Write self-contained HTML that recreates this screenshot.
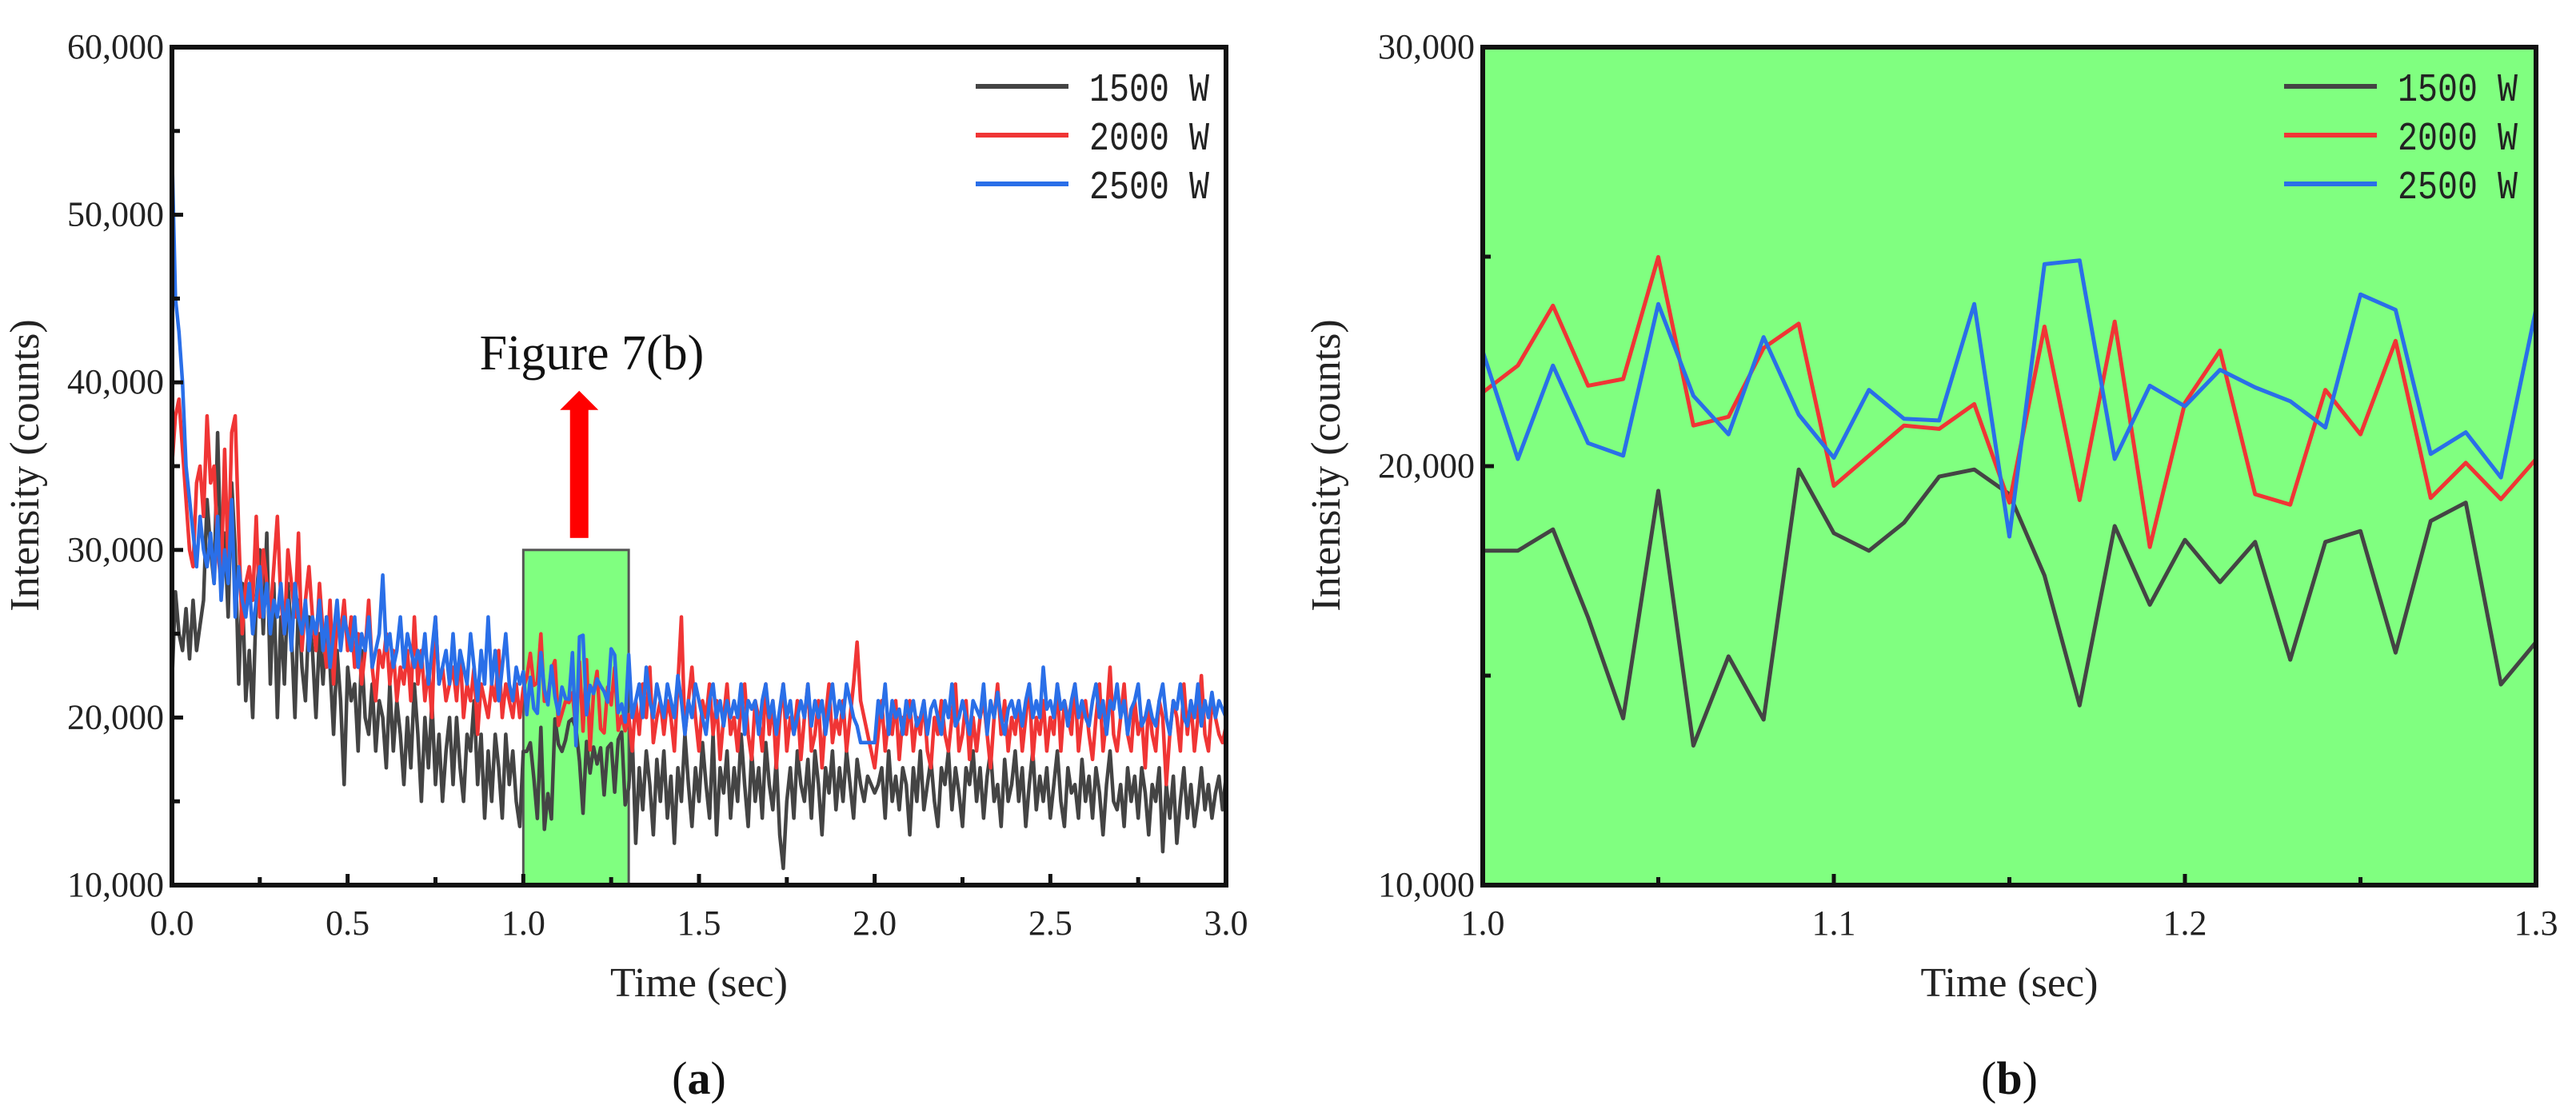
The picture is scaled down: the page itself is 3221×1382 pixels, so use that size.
<!DOCTYPE html>
<html><head><meta charset="utf-8"><style>
html,body{margin:0;padding:0;background:#fff;}
svg{display:block;font-family:"Liberation Serif",serif;}
</style></head><body>
<svg id="fig" width="3221" height="1382" viewBox="0 0 3221 1382" xmlns="http://www.w3.org/2000/svg"></svg>
<script>
// ---- Panel (a) data: intensity in thousands of counts, 0.00..3.00 s step 0.01 ----
const timesA = Array.from({length:301},(_,i)=>i/100);
const a1500 = [22,27.5,25,24,26.5,23.5,27,24,25.5,27,
33,30,28,37,29,31,26,34,30,22,
28,21,24,20,27,30,25,31,22,28,
20,26,22,28,25,20,27,23,21,26,
24,20,25,22,26,23,19,24,21,16,
23,21,22,18,24,20,19,22,18,21,
20,17,22,18,21,19,16,20,17,22,
19,15,20,17,21,16,19,15,18,20,
16,20,17,15,19,18,21,16,19,14,
18,15,19,17,14,19,16,18,15,13.5,
17.98,17.98,18.49,16.39,13.98,19.41,13.33,15.46,13.95,19.92,
18.4,17.98,18.65,19.75,19.92,19.33,17.39,14.29,18.57,16.69,
18.24,17.23,18.19,15.38,18.19,18.45,15.55,18.69,19.13,14.79,
15.8,19,12.5,17,14.5,18,16,13,17.5,15,
18,14,16.5,12.5,17,15,19,16,13.5,17,
15,18.5,16,14,19,13,17,15.5,18,14,
17,15,19,16,13.5,18,15,17,14,18.5,
16,14.5,17.5,13,11,15,17,14,18,16,
15,17.5,14,18,16,13,17,15.5,18,14.5,
17,15,18,16,14,17.5,16,15,16.5,16,
15.5,16,17,14,18,15,16.5,14.5,17,16,
13,17,15,18,14.5,16,17.5,15,13.5,17,
16,18,14.5,17,15.5,13.5,17,16,18,15,
17,14,16.5,18,15,16,13.5,17.5,15,16,
18,15,17,13.5,16,18,14.5,16.5,15,17,
14,16,18,15,13.5,17,15.5,16,14,17.5,
15,16.5,14,17,15.5,13,16,18,15,14.5,
16,13.5,17,15,16.5,14,17,15.5,13,16,
15,17,12,16,14,16.5,12.5,15,17,14,
16,13.5,15,17,14.5,16,14,15.5,16.5,14.5,
16.5];
const a2000 = [35,38,39,36,33,30,29,34,35,32,
38,34,35,30,28,36,29,37,38,31,
25,28,29,27,32,26,30,28,26,29,
32,27,25,30,28,26,31,24,27,29,
26,24,28,25,23,27,22,26,25,27,
24,26,23,25,22,24,27,23,21,24,
23,25,22,24,21,23,22,24,21,26,
22,24,21,23,20,26,22,23,21,22,
23,21,24,20,22,21,23,19,22,21,
20,22,21,24,20,22,21,20,22,20,
21.76,22.4,23.83,21.92,22.08,24.99,20.97,21.18,22.82,23.4,
19.53,20.25,20.97,20.89,21.48,19.13,23.33,19.19,23.45,18.07,
21.51,22.76,19.33,19.08,21.82,20.76,22.99,19.24,20.08,19.21,
20.17,18,21,19,22,20,23,18.5,20,21,
19,21,20,18,22,26,19,21,23,20,
18,21,20,22,19,21,17.5,20,22,19,
20,18,21,22,19,17.5,21,20,18,22,
19,21,17,20,22,18,20,19,21,17.5,
20,22,18,19,21,17,20,22,18.5,20,
19,21,18,20,22,24.5,21,20,19,18,
17,19,21,18,20,19,21,17.5,20,19,
21,18,20,19,21,18,17,20,19,21,
19,18,20,22,18,19,21,17.5,20,18,
20,21,19,17,20,22,19,21,18,20,
19,21,18,20,22,17.5,20,19,21,18,
20,19,22,18,21,20,19,22,18,20,
21,19,17.5,20,22,18,20,23,19,18,
20,22,19,18,21,19,20,17,21,19,
18,21,20,16,19,21,20,18,22,19,
21,18,20,22.5,19,18,21,20,19,18.5,
19.5];
const a2500 = [54,45,43,40,35,33,31,29,32,30,
29,31,28,32,27,30,28,33,26,29,
27,26,28,25,27,29,26,28,25,27,
26,28,25,27,24,28,26,25,27,24,
26,25,27,24,26,23,25,27,24,26,
25,24,26,23,25,24,26,23,24,25,
28.5,24,25,23,24,26,23,25,24,23,
24,23,25,22,24,26,22,23,24,22,
25,22,24,23,22,25,23,21,24,22,
26,22,24,21,23,25,22,21,23,22,
22.74,20.17,22.4,20.55,20.25,23.87,21.68,20.76,23.08,21.23,
20.2,21.82,21.13,21.09,23.87,18.32,24.82,24.91,20.17,21.92,
21.43,22.3,21.88,21.55,20.92,24.1,23.73,20.29,20.81,19.73,
23.75,20,21,22,20,23,21,20,22,21,
20,22,21,20,22.5,21,19,21,20,22,
21,20,19,21,22,20,21,19.5,21,20,
21,20,22,19,21,20.5,21,19,21,22,
20,21,19,20.5,22,20,21,19,20,21,
20,22,19.5,21,20,21,19,20.5,22,20,
21,20,22,21,20,19.5,18.5,18.5,18.5,18.5,
18.5,21,20,22,19,21,20,20.5,19,21,
20,21,19.5,20,21,19,20.5,21,20,19,
21,20,22,19.5,20,21,20,19,21,20.5,
20,22,19,21,20,21.5,20,19,20.5,21,
20,21,19.5,21,22,20,21,20,23,20.5,
21,20,22,20.5,21,19.5,21,22,20,21,
20,19.5,21,22,20,21,19,21,20.5,22,
20,21,19,20.5,21,22,19.5,20,21,20,
19.5,21,22,20,19,21,20.5,22,20,19.5,
21,20,22,19.5,21,20,21.5,20,21,20.5,
20];
// ---- Panel (b) data: 1.00..1.30 s step 0.01 ----
const timesB = Array.from({length:31},(_,i)=>1+i/100);
const b1500 = [17.98,17.98,18.49,16.39,13.98,19.41,13.33,15.46,13.95,19.92,18.4,17.98,18.65,19.75,19.92,19.33,17.39,14.29,18.57,16.69,18.24,17.23,18.19,15.38,18.19,18.45,15.55,18.69,19.13,14.79,15.8];
const b2000 = [21.76,22.4,23.83,21.92,22.08,24.99,20.97,21.18,22.82,23.4,19.53,20.25,20.97,20.89,21.48,19.13,23.33,19.19,23.45,18.07,21.51,22.76,19.33,19.08,21.82,20.76,22.99,19.24,20.08,19.21,20.17];
const b2500 = [22.74,20.17,22.4,20.55,20.25,23.87,21.68,20.76,23.08,21.23,20.2,21.82,21.13,21.09,23.87,18.32,24.82,24.91,20.17,21.92,21.43,22.3,21.88,21.55,20.92,24.1,23.73,20.29,20.81,19.73,23.75];
const seriesNames = ["1500 W","2000 W","2500 W"];
const seriesColors = ["#444444","#f03535","#2a6fe8"];
const yTicksA = [10,20,30,40,50,60];
const yTicksB = [10,20,30];
const xTicksA = [0,0.5,1,1.5,2,2.5,3];
const xTicksB = [1.0,1.1,1.2,1.3];
const zoomBox = {x0:1.0,x1:1.3,y1:30};

const NS="http://www.w3.org/2000/svg";
const svg=document.getElementById('fig');
function el(tag,attrs,parent,text){const e=document.createElementNS(NS,tag);for(const k in attrs)e.setAttribute(k,attrs[k]);if(text!==undefined)e.textContent=text;(parent||svg).appendChild(e);return e;}
function fmt(v){return (v*1000).toLocaleString('en-US');}

function panel(cfg){
  const g=el('g',{});
  
  
  const L=cfg.L,R=cfg.R,T=cfg.T,B=cfg.B;
  const xs=v=>L+(v-cfg.xmin)/(cfg.xmax-cfg.xmin)*(R-L);
  const ys=v=>B-(v-cfg.ymin)/(cfg.ymax-cfg.ymin)*(B-T);
  if(cfg.bg){const r=el('rect',{x:L,y:T,width:R-L,height:B-T,fill:cfg.bg},g);}
  if(cfg.box){const bx=el('rect',{x:xs(cfg.box.x0),y:ys(cfg.box.y1),width:xs(cfg.box.x1)-xs(cfg.box.x0),height:B-ys(cfg.box.y1),fill:'#80ff80',stroke:'#555','stroke-width':3},g);
    }
  cfg.series.forEach((s,i)=>{
    const d=s.map((v,j)=>(j?'L':'M')+xs(cfg.t[j]).toFixed(1)+','+ys(v).toFixed(1)).join('');
    const p=el('path',{d:d,fill:'none',stroke:seriesColors[i],'stroke-width':cfg.lw,'stroke-linejoin':'round'},g);
    
    
  });
  const f=el('rect',{x:L,y:T,width:R-L,height:B-T,fill:'none',stroke:'#111','stroke-width':6},g);
  
  for(let v=cfg.ymin;v<=cfg.ymax+1e-9;v+=cfg.yminor){
    const isMaj=cfg.yTicks.some(t=>Math.abs(t-v)<1e-9);
    el('line',{x1:L,x2:L+(isMaj?14:10),y1:ys(v),y2:ys(v),stroke:'#111','stroke-width':5},g);
  }
  cfg.yTicks.forEach(v=>{const t=el('text',{x:L-10,y:ys(v)+14,'text-anchor':'end','font-size':44,fill:'#222'},g,fmt(v));
    });
  for(let k=0;;k++){const v=cfg.xmin+k*cfg.xminor;if(v>cfg.xmax+1e-9)break;
    const isMaj=cfg.xTicks.some(t=>Math.abs(t-v)<1e-9);
    el('line',{x1:xs(v),x2:xs(v),y1:B,y2:B-(isMaj?14:10),stroke:'#111','stroke-width':5},g);}
  cfg.xTicks.forEach(v=>{const t=el('text',{x:xs(v),y:B+62,'text-anchor':'middle','font-size':44,fill:'#222'},g,v.toFixed(1));
    });
  const xt=el('text',{x:(L+R)/2,y:1246,'text-anchor':'middle','font-size':52,fill:'#222'},g,'Time (sec)');
  
  const yt=el('text',{x:0,y:0,transform:`translate(${cfg.ytx},582) rotate(-90)`,'text-anchor':'middle','font-size':52,fill:'#222'},g,'Intensity (counts)');
  
  const lg=el('g',{},g);
  seriesNames.forEach((n,i)=>{const yy=108+i*61;
    el('line',{x1:cfg.legX,x2:cfg.legX+116,y1:yy,y2:yy,stroke:seriesColors[i],'stroke-width':6},lg);
    const t=el('text',{x:cfg.legX+142,y:yy+18,'font-size':50,fill:'#222','font-family':'"Liberation Mono",monospace','textLength':150,'lengthAdjust':'spacingAndGlyphs'},lg,n.replace(' ','  '));
    });
  const cap=el('text',{x:(L+R)/2,y:1368,'text-anchor':'middle','font-size':58,fill:'#111'},g);
  cap.innerHTML='(<tspan font-weight="bold">'+cfg.cap+'</tspan>)';
  
  return {xs,ys,g};
}
const pa=panel({name:'panel-a',L:215,R:1533,T:59,B:1107,xmin:0,xmax:3,ymin:10,ymax:60,yTicks:yTicksA,yminor:5,xTicks:xTicksA,xminor:0.25,
  t:timesA,series:[a1500,a2000,a2500],lw:4.5,legX:1220,ytx:48,cap:'a',box:zoomBox});
const arr=el('g',{});
const ax=pa.xs((zoomBox.x0+zoomBox.x1)/2)+4;
const by=pa.ys(zoomBox.y1);
el('rect',{x:ax-11.5,y:by-176,width:23,height:161,fill:'#ff0000'},arr);
el('polygon',{points:`${ax-24},${by-175} ${ax+24},${by-175} ${ax},${by-199}`,fill:'#ff0000'},arr);
const ft=el('text',{x:740,y:462,'text-anchor':'middle','font-size':62,fill:'#111'},arr,'Figure 7(b)');

panel({name:'panel-b',L:1854,R:3171,T:59,B:1107,xmin:1.0,xmax:1.3,ymin:10,ymax:30,yTicks:yTicksB,yminor:5,xTicks:xTicksB,xminor:0.05,
  t:timesB,series:[b1500,b2000,b2500],lw:5,legX:2856,ytx:1675,bg:'#80ff80',cap:'b'});
</script>
</body></html>
